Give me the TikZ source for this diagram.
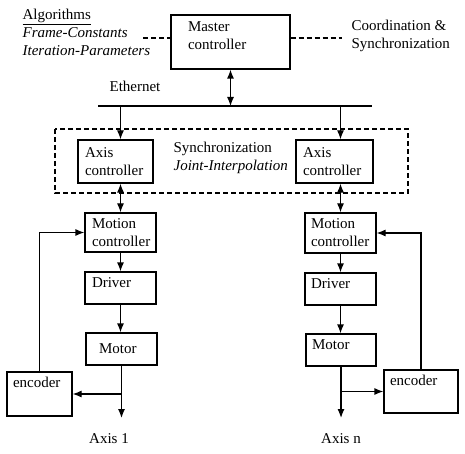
\documentclass[tikz,border=0pt]{standalone}
\usepackage{fontspec}
\setmainfont{Liberation Serif}
\usetikzlibrary{arrows.meta,positioning}

\begin{document}
\begin{tikzpicture}[x=1pt,y=-1pt,font=\fontsize{15}{18}\selectfont,line width=1.2pt,
  >={Latex[length=9pt,width=7pt]},
  blk/.style={draw,align=left,inner ysep=2pt},
  txt/.style={align=left,inner sep=0pt,anchor=west}]
\useasboundingbox (0,0) rectangle (465,454);
% top level
\node[blk,text width=85pt,inner xsep=17pt,minimum height=54pt] (master) at (230.5,42) {Master\\controller\\[-6pt]\mbox{}};
\node[txt] (algo) at (22,32) {\underline{Algorithms}\\\textit{Frame-Constants}\\\textit{Iteration-Parameters}};
\node[txt] (coord) at (351,36) {Coordination \&\\Synchronization};
\node (eth) at (135,86) {Ethernet};
\coordinate (dl) at (143,38);
\coordinate (dr) at (342,38);
\draw[dash pattern=on 5pt off 3pt] (dl) -- (dl -| master.west);
\draw[dash pattern=on 5pt off 3pt] (dr -| master.east) -- (dr);
\coordinate (busl) at (98,106);
\coordinate (busr) at (372,106);
\draw[line width=2.4pt] (busl) -- (busr);
\draw[<->] (master.south) -- (master.south |- busl);
% axis controllers
\node[blk,text width=61pt,inner xsep=7pt,minimum height=43pt] (axisL) at (115.5,161.5) {Axis\\controller};
\node[blk,text width=63pt,inner xsep=7pt,minimum height=43pt] (axisR) at (334.5,161.5) {Axis\\controller};
\node[txt] (sync) at (173,158) {Synchronization\\\textit{Joint-Interpolation}};
\draw[dash pattern=on 5pt off 3pt] (55,129) rectangle (408,193);
% axis 1
\node[blk,text width=57pt,inner xsep=7pt,minimum height=39pt] (motionL) at (120.5,232.5) {Motion\\controller};
\node[blk,text width=57pt,inner xsep=7pt,minimum height=32pt,text depth=10pt] (driverL) at (120.5,288) {Driver};
\node[blk,text width=45pt,inner xsep=13pt,minimum height=32pt] (motorL) at (121.5,349) {Motor};
\node[blk,text width=53pt,inner xsep=6pt,minimum height=44pt,text depth=24pt] (encL) at (39.5,394) {encoder};
\coordinate (endL) at (121.5,418);
\node (ax1) at (109,439) {Axis 1};
% axis n
\node[blk,text width=59pt,inner xsep=6pt,minimum height=40pt] (motionR) at (340.5,233) {Motion\\controller};
\node[blk,text width=59pt,inner xsep=6pt,minimum height=32pt,text depth=10pt] (driverR) at (340.5,289) {Driver};
\node[blk,text width=58pt,inner xsep=6pt,minimum height=32pt,text depth=10pt] (motorR) at (341,350) {Motor};
\node[blk,text width=62pt,inner xsep=6pt,minimum height=43pt,text depth=22pt] (encR) at (421,391.5) {encoder};
\coordinate (endR) at (341,418);
\node (axn) at (341,439) {Axis n};
% connectors
\draw[->] (motionL |- busl) -- (motionL |- axisL.north);
\draw[->] (motionR |- busl) -- (motionR |- axisR.north);
\draw[<->] (motionL |- axisL.south) -- (motionL.north);
\draw[<->] (motionR |- axisR.south) -- (motionR.north);
\draw[->] (motionL.south) -- (driverL);
\draw[->] (driverL.south) -- (driverL.south |- motorL.north);
\draw[->] (motionR.south) -- (driverR);
\draw[->] (driverR.south) -- (driverR.south |- motorR.north);
\draw[->] (motorL.south) -- (endL);
\draw[->] (motorR.south) -- (endR);
\draw[->] (motorL.south |- encL.east) -- (encL.east);
\draw[->] (motorR.south |- encR.west) -- (encR.west);
\draw[->] (encL.north) |- (motionL.west);
\draw[->] (encR.north) |- (motionR.east);
\end{tikzpicture}
\end{document}
